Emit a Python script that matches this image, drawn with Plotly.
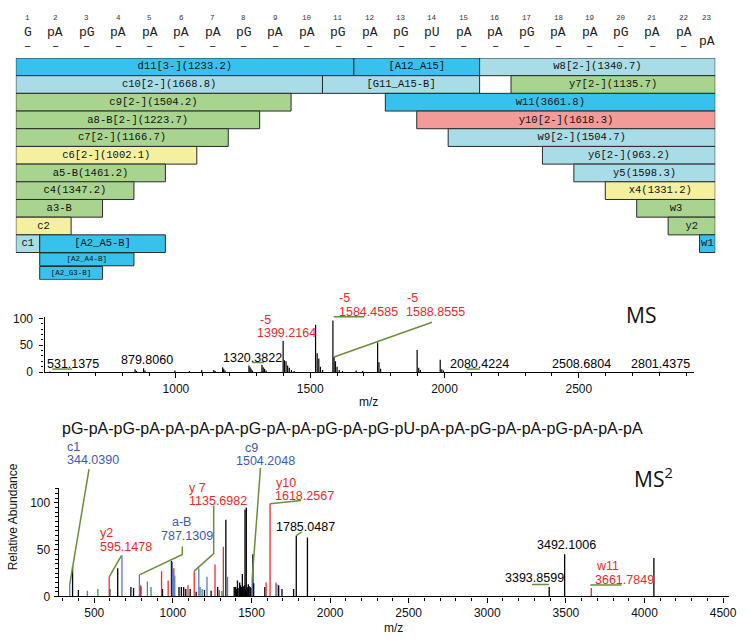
import plotly.graph_objects as go

W, H = 747, 643

# ------------------------------------------------------------------ data
residue_numbers = list(range(1, 24))
residue_names = ["G", "pA", "pG", "pA", "pA", "pA", "pA", "pG", "pA", "pA", "pG", "pA",
                 "pG", "pU", "pA", "pA", "pG", "pA", "pA", "pG", "pA", "pA", "pA"]
sequence_title = "pG-pA-pG-pA-pA-pA-pA-pG-pA-pA-pG-pA-pG-pU-pA-pA-pG-pA-pA-pG-pA-pA-pA"

frag_labels = ["d11[3-](1233.2)", "[A12_A15]", "w8[2-](1340.7)",
               "c10[2-](1668.8)", "[G11_A15-B]", "y7[2-](1135.7)",
               "c9[2-](1504.2)", "w11(3661.8)",
               "a8-B[2-](1223.7)", "y10[2-](1618.3)",
               "c7[2-](1166.7)", "w9[2-](1504.7)",
               "c6[2-](1002.1)", "y6[2-](963.2)",
               "a5-B(1461.2)", "y5(1598.3)",
               "c4(1347.2)", "x4(1331.2)",
               "a3-B", "w3",
               "c2", "y2",
               "c1", "[A2_A5-B]", "w1",
               "[A2_A4-B]",
               "[A2_G3-B]"]
frag_start = [0, 11, 15, 0, 10, 16, 0, 12, 0, 13, 0, 14, 0, 17, 0, 18, 0, 19, 0, 20, 0, 21, 0, 1, 22, 1, 1]
frag_end = [11, 15, 23, 10, 15, 23, 9, 23, 8, 23, 7, 23, 6, 23, 5, 23, 4, 23, 3, 23, 2, 23, 1, 5, 23, 4, 3]
frag_row = [1, 1, 1, 2, 2, 2, 3, 3, 4, 4, 5, 5, 6, 6, 7, 7, 8, 8, 9, 9, 10, 10, 11, 11, 11, 12, 13]
frag_kind = ["B", "B", "L", "L", "L", "G", "G", "B", "G", "R", "G", "L", "Y", "L",
             "G", "L", "G", "Y", "G", "G", "Y", "G", "L", "B", "B", "B", "B"]

# full-scan MS (m/z, relative abundance)
ms_mz = [531.1, 848, 853, 879.8, 885, 996, 1050, 1096, 1141, 1146, 1174, 1178, 1183,
         1272, 1276, 1280, 1285, 1320.4, 1325, 1330, 1336,
         1399.2, 1404, 1410, 1416, 1422, 1430, 1440,
         1520, 1526, 1532, 1538, 1546,
         1584.5, 1588.9, 1594, 1600, 1608, 1620, 1671, 1695,
         1751, 1756, 1762, 1898, 1904, 1910, 1984, 1990, 1996,
         2080.4, 2508.7, 2801.4]
ms_int = [1, 5, 2, 7, 3, 3, 2, 4, 4, 2, 9, 6, 3,
          12, 9, 6, 3, 13, 9, 6, 3,
          58, 22, 20, 12, 8, 4, 2,
          88, 35, 25, 10, 4,
          96, 28, 20, 10, 4, 2, 3, 2,
          55, 18, 6, 41, 8, 4, 23, 5, 3,
          0.6, 0.6, 0.6]

# MS2 spectrum, split by ion assignment
ms2_black_mz = [362, 399, 599, 649, 733, 750, 796, 934, 991, 1039, 1054, 1069, 1082, 1110,
                1148, 1201, 1243, 1285, 1337, 1390, 1395, 1400, 1405, 1411, 1415, 1425, 1430,
                1436, 1442, 1447, 1452, 1456, 1459, 1463, 1467, 1472, 1477, 1480, 1485, 1492,
                1497, 1509, 1514, 1585, 1673, 1694, 1768, 1785.0, 1856, 3393.9, 3492.1, 4060]
ms2_black_int = [32, 7, 8, 30, 10, 9, 11, 8, 38, 10, 10, 10, 8, 8,
                 5, 7, 6, 10, 82, 10, 10, 10, 8, 17, 9, 15, 12,
                 10, 24, 11, 10, 12, 93, 8, 95, 10, 9, 13, 11, 10,
                 9, 45, 14, 10, 12, 8, 8, 65, 63, 10, 45, 41]
ms2_red_mz = [595.1, 792, 928, 970, 1006, 1096, 1135.7, 1268, 1295, 1321, 1593, 1618.3, 1656, 3661.8]
ms2_red_int = [21, 12, 27, 17, 30, 12, 27, 34, 7, 53, 15, 99, 15, 9]
ms2_blue_mz = [344.0, 456, 676, 787.1, 838, 997, 1012, 1165, 1173, 1217, 1348, 1504.2, 1662]
ms2_blue_int = [13, 6, 44, 23, 16, 37, 22, 30, 10, 21, 21, 18, 13]
ms2_green_mz = [523, 861, 1186, 1312]
ms2_green_int = [8, 10, 8, 6]

# ------------------------------------------------------------------ geometry / style
KIND_COLORS = {"B": "#36C2EC", "L": "#A8DCE6", "G": "#A8D48F", "Y": "#F4F0A0", "R": "#F29B98"}
MAP_XPX = (16, 723)
MAP_XR = (0.24, 22.5)
MAP_YPX = (54, 280)
SMALL = 0.77
MAP_YR = (11.5 + 2 * SMALL, 0.5)

MS_XPX = (45, 702)
MS_XR = (510.8, 2930.7)
MS_YPX = (374, 318)
MS_YR = (0, 102.4)

MS2_XPX = (59.3, 736.7)
MS2_XR = (273.5, 4536.5)
MS2_YPX = (602.7, 491.7)
MS2_YR = (0, 116.35)

OLIVE = "#6B8E3A"
RED = "#F02828"
BLUE = "#3B58BE"
FONT = "Liberation Sans"


def PX(x):
    return x / W


def PY(y):
    return 1 - y / H


def lin(v, r, p):
    return p[0] + (v - r[0]) / (r[1] - r[0]) * (p[1] - p[0])


def ms_pt(mz, h):
    return lin(mz, MS_XR, MS_XPX), lin(h, MS_YR, MS_YPX)


def ms2_pt(mz, h):
    return lin(mz, MS2_XR, MS2_XPX), lin(h, MS2_YR, MS2_YPX)


def row_center(r):
    return r if r <= 11 else 11.5 + (r - 12 + 0.5) * SMALL


def row_height(r):
    return 1.0 if r <= 11 else SMALL * 0.95


def sticks(mz, inten):
    xs, ys = [], []
    for m, h in zip(mz, inten):
        xs += [m, m, None]
        ys += [0, h, None]
    return xs, ys


fig = go.Figure()

# ------------------------------------------------------------------ fragment map
x0 = [max(s, MAP_XR[0]) for s in frag_start]
x1 = [min(e, MAP_XR[1]) for e in frag_end]
yc = [row_center(r) for r in frag_row]
fig.add_trace(go.Bar(
    orientation="h", base=x0, x=[b - a for a, b in zip(x0, x1)], y=yc,
    width=[row_height(r) for r in frag_row],
    marker=dict(color=[KIND_COLORS[k] for k in frag_kind], line=dict(color="#2a2a2a", width=1)),
    xaxis="x", yaxis="y", hoverinfo="skip", showlegend=False))
fig.add_trace(go.Scatter(
    x=[(a + b) / 2 for a, b in zip(x0, x1)], y=yc, mode="text", text=frag_labels,
    textfont=dict(family="Liberation Mono", size=[10.5 if r <= 11 else 7.5 for r in frag_row], color="#111"),
    xaxis="x", yaxis="y", hoverinfo="skip", showlegend=False, cliponaxis=False))

annotations = []
for i, name in zip(residue_numbers, residue_names):
    c = (max(i - 1, MAP_XR[0]) + min(i, MAP_XR[1])) / 2
    last = i == residue_numbers[-1]
    annotations.append(dict(x=c, y=PY(13), xref="x", yref="paper", text=str(i), showarrow=False,
                            xanchor="center", yanchor="middle",
                            font=dict(family="Liberation Mono", size=7.5, color="#333")))
    annotations.append(dict(x=c, y=PY(37 if last else 28), xref="x", yref="paper", text=name,
                            showarrow=False, xanchor="center", yanchor="middle",
                            font=dict(family="Liberation Mono", size=13, color="#222")))
    if not last:
        annotations.append(dict(x=c, y=PY(43), xref="x", yref="paper", text="–", showarrow=False,
                                xanchor="center", yanchor="middle",
                                font=dict(family="Liberation Mono", size=12, color="#333")))

# ------------------------------------------------------------------ MS spectrum
xs, ys = sticks(ms_mz, ms_int)
fig.add_trace(go.Scatter(x=xs, y=ys, mode="lines", line=dict(color="black", width=1.2),
                         xaxis="x2", yaxis="y2", hoverinfo="skip", showlegend=False))

# ------------------------------------------------------------------ MS2 spectrum
for mz, it, col in [(ms2_black_mz, ms2_black_int, "black"),
                    (ms2_red_mz, ms2_red_int, "#EE2C2C"),
                    (ms2_blue_mz, ms2_blue_int, "#5B78C6"),
                    (ms2_green_mz, ms2_green_int, "#2F9A4F")]:
    xs, ys = sticks(mz, it)
    fig.add_trace(go.Scatter(x=xs, y=ys, mode="lines", line=dict(color=col, width=1.3),
                             xaxis="x3", yaxis="y3", hoverinfo="skip", showlegend=False))


def label(text, color, x, y, anchor="center", size=12.5, family=FONT):
    annotations.append(dict(x=PX(x), y=PY(y), xref="paper", yref="paper", text=text, showarrow=False,
                            xanchor=anchor, yanchor="middle", font=dict(family=family, size=size, color=color)))


# MS labels
for t, c, x, y, a in [("531.1375", "black", 74, 366, "center"),
                      ("879.8060", "black", 148.5, 361.7, "center"),
                      ("1320.3822", "black", 255.5, 359.3, "center"),
                      ("-5", RED, 260.5, 321, "left"),
                      ("1399.2164", RED, 290, 334, "center"),
                      ("-5", RED, 340.5, 298.3, "left"),
                      ("1584.4585", RED, 372, 313.3, "center"),
                      ("-5", RED, 409, 298.3, "left"),
                      ("1588.8555", RED, 440, 313.3, "center"),
                      ("2080.4224", "black", 484.3, 366, "center"),
                      ("2508.6804", "black", 588.3, 366, "center"),
                      ("2801.4375", "black", 667.7, 366, "center")]:
    label(t, c, x, y, a)

# MS2 labels
for t, c, x, y in [("c1", BLUE, 66, 450), ("344.0390", BLUE, 66, 463.5),
                   ("y2", RED, 99, 538), ("595.1478", RED, 99, 552.5),
                   ("a-B", BLUE, 172, 527), ("787.1309", BLUE, 160.5, 540.7),
                   ("y 7", RED, 189, 492), ("1135.6982", RED, 189, 505.5),
                   ("c9", BLUE, 246, 451.7), ("1504.2048", BLUE, 236.5, 464.3),
                   ("y10", RED, 276.5, 487), ("1618.2567", RED, 275.5, 500.5),
                   ("1785.0487", "black", 276.5, 532.3),
                   ("3393.8599", "black", 508, 584),
                   ("3492.1006", "black", 540.7, 550.7),
                   ("w11", RED, 600, 571.7), ("3661.7849", RED, 599, 585.7)]:
    label(t, c, x, y, "left")

label(sequence_title, "#111", 356, 431.7, "center", 16)
label("MS", "#111", 647.5, 316, "center", 21, "Open Sans")
label("MS<sup>2</sup>", "#111", 639, 481.7, "left", 21, "Open Sans")
label("m/z", "#111", 372, 405, "center", 12)
label("m/z", "#111", 398, 635, "center", 12)
annotations.append(dict(x=PX(13.5), y=PY(521.7), xref="paper", yref="paper", text="Relative Abundance",
                        textangle=-90, showarrow=False, xanchor="center", yanchor="middle",
                        font=dict(family=FONT, size=12, color="#111")))

# leader lines
shapes = []


def poly(points):
    path = "M " + " L ".join(f"{PX(x):.5f},{PY(y):.5f}" for x, y in points)
    shapes.append(dict(type="path", path=path, xref="paper", yref="paper",
                       line=dict(color=OLIVE, width=1.5)))


poly([(53, 371), (73, 371)])
poly([(255, 364.3), (266.7, 364.3)])
poly([(337.3, 317.7), (368.3, 317.7)])
poly([ms_pt(1588.9, 28), (436.7, 323.3)])
poly([(471.7, 371), (485, 371)])

poly([(90, 473), ms2_pt(344.0, 13)])
poly([(122.7, 561), ms2_pt(595.1, 21)])
poly([(184.3, 551.7), (184.3, 560), ms2_pt(787.1, 23)])
poly([(216, 510), (216, 559), ms2_pt(1135.7, 27)])
poly([(263.3, 471.7), ms2_pt(1504.2, 18)])
poly([ms2_pt(1618.3, 99), (304.3, 505)])
poly([ms2_pt(1785.0, 65), (305, 537)])
poly([(537.7, 590.5), (ms2_pt(3393.9, 10)[0], 590.5)])
poly([(596.7, 591), (628.3, 591)])

# ------------------------------------------------------------------ axes
def spec_x(dom, rng, anchor):
    return dict(domain=[PX(dom[0]), PX(dom[1])], range=list(rng), anchor=anchor,
                showline=True, linecolor="black", linewidth=1.2, showgrid=False, zeroline=False,
                ticks="outside", ticklen=5, tickcolor="black", tickwidth=1.2,
                tickmode="linear", tick0=0, dtick=500,
                minor=dict(ticks="outside", ticklen=3, tickcolor="black", dtick=100, tick0=0, showgrid=False),
                tickfont=dict(family=FONT, size=12, color="#111"))


def spec_y(dom, rng, anchor, mdt, standoff):
    return dict(domain=[PY(dom[0]), PY(dom[1])], range=list(rng), anchor=anchor,
                showline=True, linecolor="black", linewidth=1.2, showgrid=False, zeroline=False,
                ticks="outside", ticklen=4, tickcolor="black", tickwidth=1.2,
                tickmode="linear", tick0=0, dtick=50, ticklabelstandoff=standoff,
                minor=dict(ticks="outside", ticklen=2.5, tickcolor="black", dtick=mdt, tick0=0, showgrid=False),
                tickfont=dict(family=FONT, size=12, color="#111"))


fig.update_layout(
    width=W, height=H, margin=dict(l=0, r=0, t=0, b=0, pad=0),
    paper_bgcolor="white", plot_bgcolor="white", showlegend=False,
    xaxis=dict(domain=[PX(MAP_XPX[0]), PX(MAP_XPX[1])], range=list(MAP_XR), visible=False, anchor="y"),
    yaxis=dict(domain=[PY(MAP_YPX[1]), PY(MAP_YPX[0])], range=list(MAP_YR), visible=False, anchor="x"),
    xaxis2=spec_x(MS_XPX, MS_XR, "y2"),
    yaxis2=spec_y(MS_YPX, MS_YR, "x2", 10, 4),
    xaxis3=spec_x(MS2_XPX, MS2_XR, "y3"),
    yaxis3=spec_y(MS2_YPX, MS2_YR, "x3", 5, 1),
    annotations=annotations, shapes=shapes,
)

fig.write_html("out.html", config={"displayModeBar": False},
               post_script="document.body.style.margin='0px';")
